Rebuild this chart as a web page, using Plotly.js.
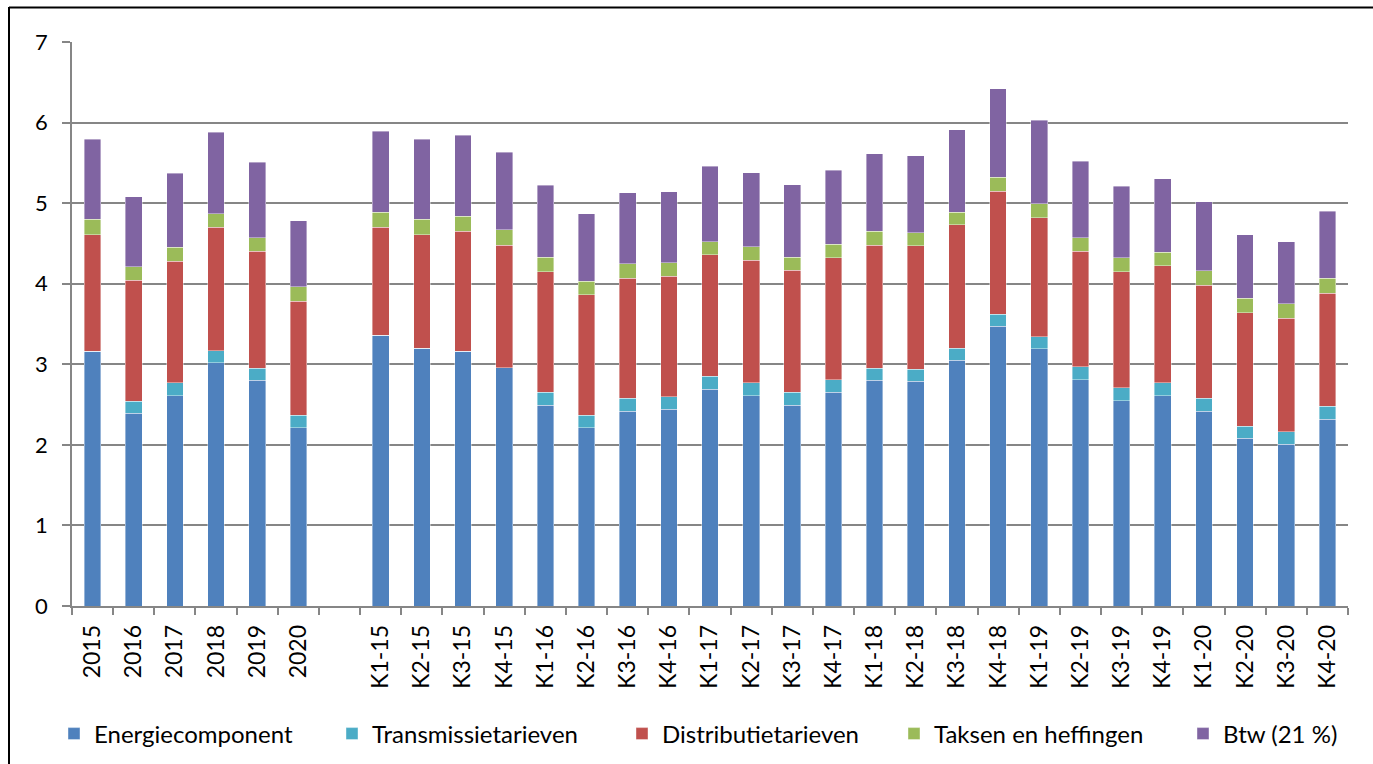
<!DOCTYPE html>
<html>
<head>
<meta charset="utf-8">
<script src="https://cdn.plot.ly/plotly-3.0.1.min.js"></script>
<style>
html,body{margin:0;padding:0;background:#fff;}
#chart{width:1373px;height:764px;}
</style>
</head>
<body>
<div id="chart"></div>
<script>
const categories = ["2015","2016","2017","2018","2019","2020"," ",
  "K1-15","K2-15","K3-15","K4-15","K1-16","K2-16","K3-16","K4-16",
  "K1-17","K2-17","K3-17","K4-17","K1-18","K2-18","K3-18","K4-18",
  "K1-19","K2-19","K3-19","K4-19","K1-20","K2-20","K3-20","K4-20"];

const energiecomponent = [3.16,2.39,2.61,3.02,2.80,2.21,null,
  3.36,3.20,3.16,2.96, 2.49,2.21,2.42,2.44,
  2.69,2.61,2.49,2.65, 2.80,2.79,3.05,3.47,
  3.19,2.81,2.55,2.61, 2.42,2.08,2.01,2.32];

const transmissietarieven = [0.00,0.15,0.16,0.15,0.15,0.16,null,
  0.00,0.00,0.00,0.00, 0.16,0.16,0.16,0.16,
  0.16,0.16,0.16,0.16, 0.15,0.15,0.15,0.15,
  0.15,0.16,0.16,0.16, 0.16,0.15,0.15,0.16];

const distributietarieven = [1.45,1.50,1.51,1.53,1.45,1.41,null,
  1.34,1.41,1.49,1.52, 1.50,1.49,1.49,1.49,
  1.51,1.52,1.52,1.51, 1.53,1.53,1.53,1.53,
  1.48,1.43,1.44,1.45, 1.40,1.41,1.41,1.40];

const taksenEnHeffingen = [0.19,0.17,0.17,0.17,0.17,0.18,null,
  0.19,0.19,0.19,0.19, 0.18,0.17,0.18,0.17,
  0.16,0.17,0.16,0.17, 0.17,0.16,0.16,0.17,
  0.17,0.17,0.17,0.17, 0.18,0.18,0.18,0.19];

const btw = [0.99,0.87,0.92,1.01,0.94,0.82,null,
  1.00,0.99,1.00,0.96, 0.89,0.84,0.88,0.88,
  0.94,0.92,0.90,0.92, 0.96,0.96,1.02,1.10,
  1.04,0.95,0.89,0.91, 0.86,0.79,0.77,0.83];

const seriesNames = ["Energiecomponent","Transmissietarieven","Distributietarieven","Taksen en heffingen","Btw (21 %)"];
const seriesValues = [energiecomponent, transmissietarieven, distributietarieven, taksenEnHeffingen, btw];
const colors = ["#4F81BD","#4BACC6","#C0504D","#9BBB59","#8064A2"];
const legendIds = ["legend","legend2","legend3","legend4","legend5"];

const traces = seriesNames.map((n,i)=>({
  type:"bar", name:n, x:categories, y:seriesValues[i], legend:legendIds[i],
  marker:{color:colors[i], line:{color:"rgba(255,255,255,0.5)", width:0.8}},
  hoverinfo:"x+y+name"
}));

const FONT = "Lato, 'Open Sans', sans-serif";
const L = 72, R = 25, T = 42, B = 158;
const W = 1373, H = 764;
const pw = W-L-R, ph = H-T-B;
const px = v => (v-L)/pw;
const py = v => (H-B-v)/ph;

const legendX = [54, 332, 622, 894, 1183];

const layout = {
  width:W, height:H,
  margin:{l:L, r:R, t:T, b:B, pad:0},
  paper_bgcolor:"#fff", plot_bgcolor:"#fff",
  barmode:"stack", bargap:0.595,
  font:{family:FONT, size:22, color:"#000"},
  xaxis:{
    type:"category", tickson:"boundaries", ticks:"outside", ticklen:7, tickwidth:1.5, tickcolor:"#868686",
    showline:true, linecolor:"#868686", linewidth:1.5, showgrid:false, automargin:false,
    tickangle:-90, tickfont:{family:FONT, size:23, color:"#000"}, ticklabelstandoff:8, fixedrange:true
  },
  yaxis:{
    range:[0,7], dtick:1, tick0:0, ticks:"outside", ticklen:8, tickwidth:1.5, tickcolor:"#868686",
    showline:true, linecolor:"#868686", linewidth:1.5, automargin:false,
    showgrid:true, gridcolor:"#868686", gridwidth:1.5, zeroline:false,
    tickfont:{family:FONT, size:22, color:"#000"}, ticklabelstandoff:10, fixedrange:true
  },
  showlegend:true,
  shapes:[
    {type:"line", xref:"paper", yref:"paper", x0:px(9), x1:px(1400), y0:py(7.5), y1:py(7.5), line:{color:"#000", width:2}},
    {type:"line", xref:"paper", yref:"paper", x0:px(9), x1:px(9), y0:py(7), y1:py(800), line:{color:"#000", width:2}}
  ]
};

legendIds.forEach((id,i)=>{
  layout[id] = {
    orientation:"h", xref:"container", yref:"container",
    x:legendX[i]/W, xanchor:"left", y:(H-734)/H, yanchor:"middle",
    font:{family:FONT, size:24, color:"#000"}, bgcolor:"rgba(0,0,0,0)",
    itemclick:false, itemdoubleclick:false
  };
});

Plotly.newPlot("chart", traces, layout, {displayModeBar:false});
</script>
</body>
</html>
